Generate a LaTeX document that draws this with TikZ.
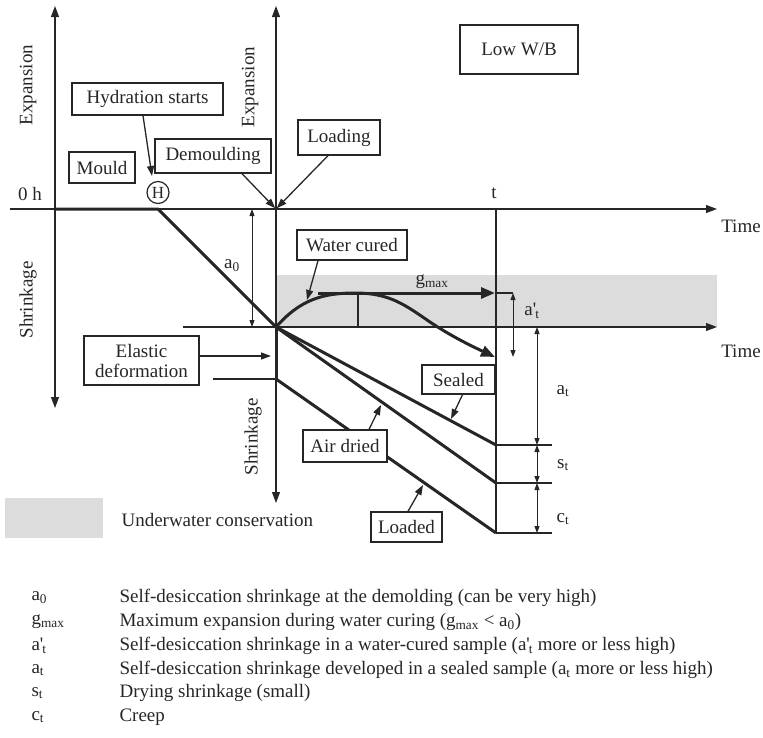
\documentclass[tikz,border=0pt]{standalone}
\usepackage{fontspec}
\setmainfont{Liberation Serif}
\usetikzlibrary{arrows.meta,calc}
\definecolor{ink}{HTML}{262626}
\definecolor{band}{HTML}{DCDCDC}
\newcommand{\aprime}{a\textquotesingle\kern-0.05em}

\begin{document}
\begin{tikzpicture}[x=1pt,y=-1pt,
  font=\fontsize{19}{20}\selectfont,
  every node/.style={text=ink},
  axisboth/.style={draw=ink,line width=1.1pt,{Triangle[length=11pt,width=8pt]}-{Triangle[length=11pt,width=8pt]}},
  axisright/.style={draw=ink,line width=1.1pt,-{Triangle[length=11pt,width=8pt]}},
  guide/.style={draw=ink,line width=1.1pt},
  dim/.style={draw=ink,line width=1pt,{Triangle[length=7pt,width=5pt]}-{Triangle[length=7pt,width=5pt]}},
  heavy/.style={draw=ink,line width=3pt},
  heavyarrow/.style={heavy,-{Triangle[length=14pt,width=11pt]}},
  box/.style={draw=ink,line width=1.3pt,fill=white,inner sep=0pt,align=center},
  pointer/.style={draw=ink,line width=1.3pt,-{Triangle[length=10pt,width=7pt]}},
]
\useasboundingbox (0,0) rectangle (763,737);

% shaded zones
\fill[band] (276,275) rectangle (717,327);
\fill[band] (5,498) rectangle (103,538);

% axes
\coordinate (L1top) at (55,6);
\coordinate (L1bot) at (55,408);
\coordinate (L2top) at (276,6);
\coordinate (L2bot) at (276,503);
\coordinate (T1start) at (10,209);
\coordinate (T1end) at (717,209);
\coordinate (T2start) at (183,327);
\coordinate (T2end) at (717,327);
\draw[axisboth] (L1bot) -- (L1top);
\draw[axisboth] (L2bot) -- (L2top);
\draw[axisright] (T1start) -- (T1end);
\draw[axisright] (T2start) -- (T2end);

% key points
\coordinate (O1) at (158,209);
\coordinate (O2) at (276,327);
\coordinate (O3) at (276,379);
\coordinate (Esealed) at (496,445);
\coordinate (Eair) at (496,483);
\coordinate (Eloaded) at (496,533);

% guide lines
\draw[guide] (213,379) -- (O3);
\draw[guide] (496,209) -- (Eloaded);
\draw[guide] (358,293) -- (358,327);
\draw[guide] (496,293) -- (513,293);
\draw[guide] (Esealed) -- (552,445);
\draw[guide] (Eair) -- (552,483);
\draw[guide] (Eloaded) -- (552,533);

% dimension arrows
\draw[dim] (252,209) -- (252,327);
\draw[dim] (513,293) -- (513,357);
\draw[dim] (537,327) -- (537,445);
\draw[dim] (537,445) -- (537,483);
\draw[dim] (537,483) -- (537,533);

% strain curves
\draw[heavy,line join=round] (55,209) -- (O1) -- (O2);
\draw[heavy] (O2) -- (O3);
\draw[heavy] (O2) -- (Esealed);
\draw[heavy] (O2) -- (Eair);
\draw[heavy] (O3) -- (Eloaded);
\draw[heavyarrow] (O2) .. controls (300,300) and (322,293) .. (355,293)
  .. controls (390,293) and (405,305) .. (430,322)
  .. controls (448,334) and (465,343) .. (495,357);
\draw[heavyarrow] (318,293) -- (495,293);

% axis labels
\node[rotate=90] (exp1) at (28,85) {Expansion};
\node[rotate=90] (exp2) at (250,87) {Expansion};
\node[rotate=90] (shr1) at (28,300) {Shrinkage};
\node[rotate=90] (shr2) at (253,437) {Shrinkage};
\node (zeroh) at (30,194) {0 h};
\node (tlab) at (494,193) {t};
\node (time1) at (741,226) {Time};
\node (time2) at (741,351) {Time};

% quantity labels
\node (a0) at (232,266) {a\textsubscript{0}};
\node (gmax) at (432,282) {g\textsubscript{max}};
\node (apt) at (532,311) {\aprime\textsubscript{t}};
\node (at) at (563,391) {a\textsubscript{t}};
\node (st) at (563,465) {s\textsubscript{t}};
\node (ct) at (563,519) {c\textsubscript{t}};

% labelled boxes
\node[box,minimum width=151pt,minimum height=32pt] (hyd) at (147.5,99) {Hydration starts};
\node[box,minimum width=66pt,minimum height=31pt] (mould) at (102,167.5) {Mould};
\node[box,minimum width=116pt,minimum height=34pt] (demould) at (213,156) {Demoulding};
\node[box,minimum width=82pt,minimum height=35pt] (loading) at (339,137.5) {Loading};
\node[box,minimum width=118pt,minimum height=49pt] (lowwb) at (519,49.5) {Low W/B};
\node[box,minimum width=110pt,minimum height=30pt] (water) at (352,245) {Water cured};
\node[box,minimum width=115pt,minimum height=49pt] (elastic) at (141.5,360.5) {Elastic\\deformation};
\node[box,minimum width=73pt,minimum height=29pt] (sealed) at (458.5,379.5) {Sealed};
\node[box,minimum width=84pt,minimum height=32pt] (airdried) at (345,446) {Air dried};
\node[box,minimum width=71pt,minimum height=30pt] (loaded) at (406.5,527) {Loaded};
\node[draw=ink,line width=1.2pt,circle,minimum size=22pt,inner sep=0pt,font=\fontsize{17}{17}\selectfont] (H) at (158,192.5) {H};

% pointer tips
\coordinate (Htip) at (152,176);
\coordinate (wtip) at (307,300);
\coordinate (etip) at (271,356);
\coordinate (stip) at (451,419);
\coordinate (atip) at (381,405);
\coordinate (ltip) at (423,485);

% pointers
\draw[pointer] ([xshift=-4.5pt]hyd.south) -- (Htip);
\draw[pointer,shorten >=1pt] ([xshift=29pt]demould.south) -- (T1start -| O2);
\draw[pointer,shorten >=1pt] ([xshift=-11pt]loading.south) -- (T1start -| O2);
\draw[pointer] ([xshift=-34pt]water.south) -- (wtip);
\draw[pointer] ([yshift=4.5pt]elastic.east) -- (etip);
\draw[pointer] ([xshift=4pt]sealed.south) -- (stip);
\draw[pointer] ([xshift=24pt]airdried.north) -- (atip);
\draw[pointer] ([xshift=1.5pt]loaded.north) -- (ltip);

% shading key
\node[anchor=west] (uwc) at (118,520) {Underwater conservation};

% legend
\begin{scope}[every node/.append style={anchor=west}]
\node (k1) at (28,598) {a\textsubscript{0}};
\node (k2) at (28,622) {g\textsubscript{max}};
\node (k3) at (28,646) {\aprime\textsubscript{t}};
\node (k4) at (28,670) {a\textsubscript{t}};
\node (k5) at (28,693) {s\textsubscript{t}};
\node (k6) at (28,717) {c\textsubscript{t}};
\node (d1) at (116,598) {Self-desiccation shrinkage at the demolding (can be very high)};
\node (d2) at (116,622) {Maximum expansion during water curing (g\textsubscript{max} < a\textsubscript{0})};
\node (d3) at (116,646) {Self-desiccation shrinkage in a water-cured sample (\aprime\textsubscript{t} more or less high)};
\node (d4) at (116,670) {Self-desiccation shrinkage developed in a sealed sample (a\textsubscript{t} more or less high)};
\node (d5) at (116,693) {Drying shrinkage (small)};
\node (d6) at (116,717) {Creep};
\end{scope}
\end{tikzpicture}
\end{document}
